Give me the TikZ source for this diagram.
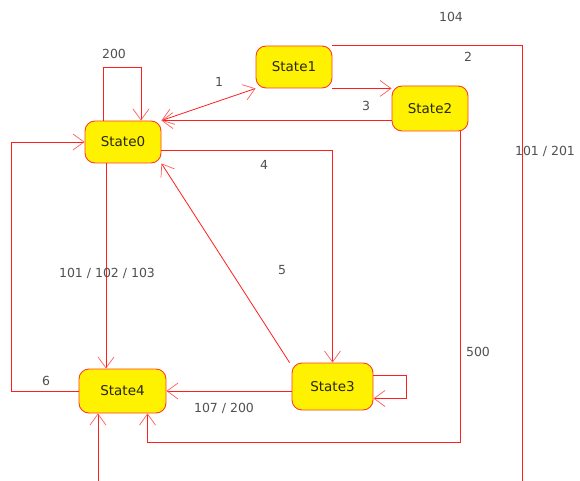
\documentclass[tikz,border=0pt]{standalone}
\usepackage{fontspec}
\setmainfont{DejaVu Sans}
\usetikzlibrary{arrows.meta}
\definecolor{edgered}{RGB}{255,30,30}
\definecolor{tipred}{RGB}{255,90,90}
\definecolor{boxred}{RGB}{255,60,40}
\definecolor{labelgray}{RGB}{80,80,80}
\definecolor{nodetext}{RGB}{40,40,20}
\tikzset{
  state/.style={draw=boxred, fill=yellow, line width=0.9pt, rounded corners=10pt,
    minimum height=42pt, minimum width=76pt, inner sep=0pt,
    font=\fontsize{13.5}{15}\selectfont, text=nodetext},
  e/.style={draw=edgered, line width=0.8pt,
    -{Straight Barb[length=11pt,width=16pt,line width=0.7pt,color=tipred]}},
  ee/.style={draw=edgered, line width=0.8pt,
    {Straight Barb[length=11pt,width=16pt,line width=0.7pt,color=tipred]}-{Straight Barb[length=11pt,width=16pt,line width=0.7pt,color=tipred]}},
  plain/.style={draw=edgered, line width=0.8pt},
  lbl/.style={font=\fontsize{12.5}{14}\selectfont, text=labelgray, inner sep=0pt}
}
\begin{document}
\begin{tikzpicture}[x=1pt,y=-1pt]
\useasboundingbox (0,0) rectangle (580,481);
% states
\node[state] (s0) at (123,142) {State0};
\node[state] (s1) at (294,67) {State1};
\node[state, minimum height=45pt] (s2) at (430,108.5) {State2};
\node[state, minimum width=81pt, minimum height=47pt] (s3) at (332.5,386.5) {State3};
\node[state, minimum width=87pt, minimum height=44pt] (s4) at (122.5,391) {State4};
% free ends
\coordinate (c1) at (522,481);
\coordinate (c2) at (98,481);
% connectors
\draw[e] ([xshift=-20pt]s0.north) -- ++(0,-53) -| ([xshift=18pt]s0.north);
\draw[ee] (s0.north east) -- (s1.south west);
\draw[e] (s1.south east) -- (s1.south east -| s2.west);
\draw[e] (s2.west |- s0.north east) -- (s0.north east);
\draw[plain] (s1.north east) -| (c1);
\draw[e] (c2) -- (c2 |- s4.south);
\draw[e] ([yshift=-8pt]s0.east) -| (s3.north);
\draw[e] ([xshift=-2pt]s3.north west) -- (s0.south east);
\coordinate (a) at ([xshift=-17pt]s0.south);
\draw[e] (a) -- (a |- s4.north);
\draw[e] (s4.west) -- ++(-67,0) |- (s0.west);
\draw[e] (s3.west |- s4.east) -- (s4.east);
\draw[e] ([yshift=11pt]s3.east) -- ++(33,0) |- ([yshift=-12pt]s3.east);
\draw[e] ([xshift=30pt]s2.south) -- ++(0,311) -| ([xshift=25pt]s4.south);
% labels
\node[lbl] (l200) at (114,54) {200};
\node[lbl] (l1) at (219,82) {1};
\node[lbl] (l104) at (451,17) {104};
\node[lbl] (l2) at (468,57) {2};
\node[lbl] (l3) at (366,106) {3};
\node[lbl] (l101) at (545,151) {101 / 201};
\node[lbl] (l4) at (264,165) {4};
\node[lbl] (l123) at (107,273) {101 / 102 / 103};
\node[lbl] (l5) at (282,270) {5};
\node[lbl] (l500) at (478,352) {500};
\node[lbl] (l6) at (46,381) {6};
\node[lbl] (l107) at (224,408) {107 / 200};
\end{tikzpicture}
\end{document}
